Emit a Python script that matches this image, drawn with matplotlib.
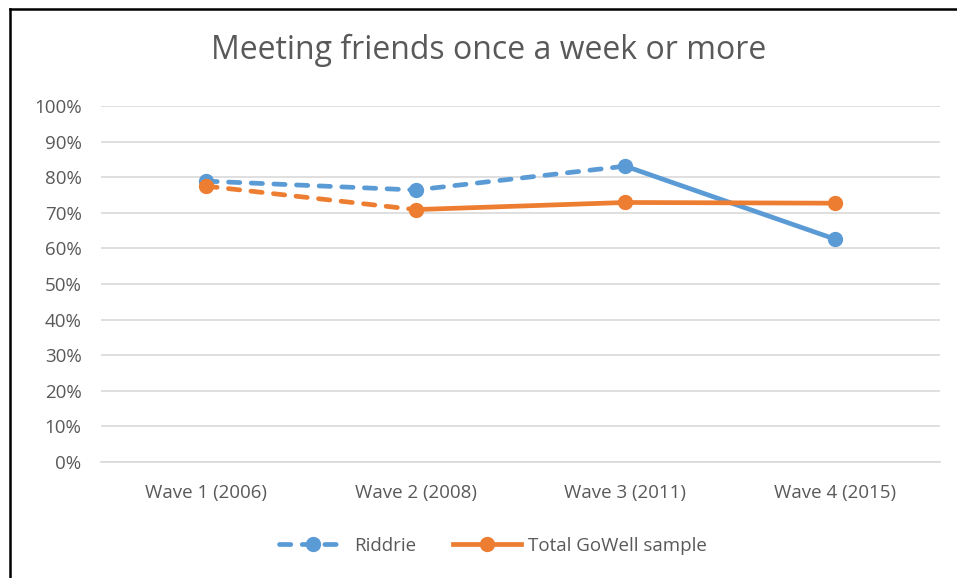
import matplotlib
matplotlib.use('Agg')
import matplotlib.pyplot as plt
from matplotlib.lines import Line2D
from matplotlib.ticker import PercentFormatter

plt.rcParams['font.family'] = ['Open Sans', 'DejaVu Sans']

waves = ['Wave 1 (2006)', 'Wave 2 (2008)', 'Wave 3 (2011)', 'Wave 4 (2015)']
riddrie = [78.9, 76.4, 83.1, 62.6]
total = [77.5, 70.9, 72.9, 72.7]

# last index of the dashed part of each series
riddrie_dash_end = 2
total_dash_end = 1

BLUE = '#5B9BD5'
ORANGE = '#ED7D31'
TEXT = '#595959'
GRID = '#D9D9D9'

fig = plt.figure(figsize=(9.57, 5.78), dpi=100)
ax = fig.add_axes([101 / 957, 1 - 462 / 578, 839 / 957, 356 / 578])

x = list(range(len(waves)))
lw = 3.4
ms = 10
DASH = (2.4, 2.4)


def draw(vals, dash_end, color):
    ax.plot(x[:dash_end + 1], vals[:dash_end + 1], color=color, lw=lw,
            dashes=DASH, dash_capstyle='round', zorder=3)
    ax.plot(x[dash_end:], vals[dash_end:], color=color, lw=lw,
            solid_capstyle='round', zorder=3)
    ax.plot(x, vals, 'o', color=color, ms=ms, zorder=4)


draw(riddrie, riddrie_dash_end, BLUE)
draw(total, total_dash_end, ORANGE)

ax.set_xlim(-0.5, len(waves) - 0.5)
ax.set_ylim(0, 100)
ax.set_yticks(range(0, 101, 10))
ax.yaxis.set_major_formatter(PercentFormatter(decimals=0))
ax.set_xticks(x)
ax.set_xticklabels(waves)
ax.tick_params(axis='both', length=0, labelsize=13.5, colors=TEXT)
ax.tick_params(axis='x', pad=16)
ax.tick_params(axis='y', pad=14)
ax.grid(axis='y', color=GRID, lw=1.2)
ax.set_axisbelow(True)
for s in ['top', 'right', 'left']:
    ax.spines[s].set_visible(False)
ax.spines['bottom'].set_color(GRID)
ax.spines['bottom'].set_linewidth(1.2)

fig.text(489 / 957, 1 - 50 / 578, 'Meeting friends once a week or more',
         ha='center', va='center', fontsize=23, color=TEXT)

handles = [
    Line2D([], [], color=BLUE, lw=lw, dashes=DASH, dash_capstyle='round',
           marker='o', ms=ms),
    Line2D([], [], color=ORANGE, lw=lw, marker='o', ms=ms),
]
fig.legend(handles, ['Riddrie', 'Total GoWell sample'], loc='center',
           bbox_to_anchor=(493 / 957, 1 - 546 / 578), ncol=2, frameon=False,
           fontsize=13.5, labelcolor=TEXT, handlelength=3.6, columnspacing=2.0,
           handletextpad=0.4)

# chart border (left and top edges visible)
fig.add_artist(Line2D([9.5 / 957, 9.5 / 957], [0, 1 - 8.5 / 578], color='black',
                      lw=1.8, transform=fig.transFigure))
fig.add_artist(Line2D([9.5 / 957, 1], [1 - 8.5 / 578, 1 - 8.5 / 578], color='black',
                      lw=1.8, transform=fig.transFigure))

fig.savefig('out.png', dpi=100)
